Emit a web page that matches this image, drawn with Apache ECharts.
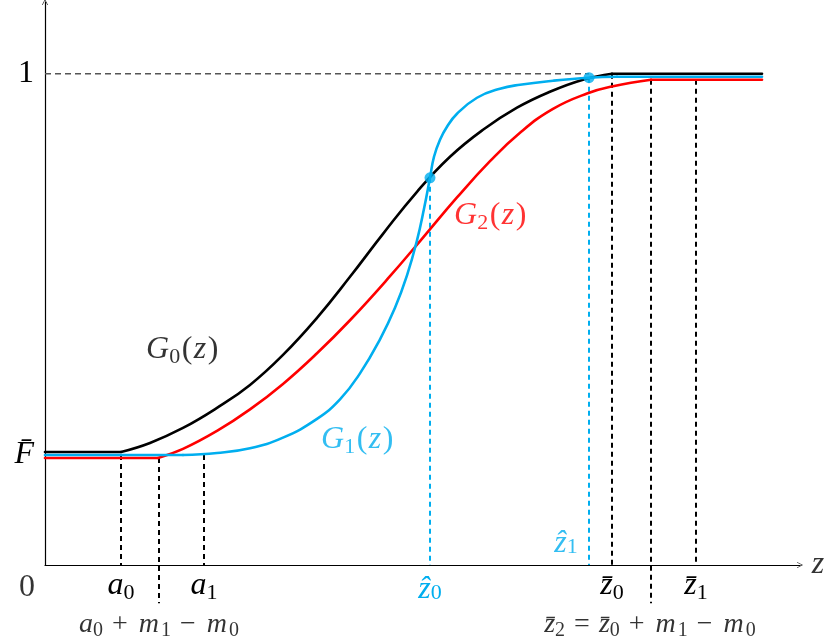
<!DOCTYPE html>
<html><head><meta charset="utf-8">
<script src="https://cdn.jsdelivr.net/npm/echarts@6.0.0/dist/echarts.min.js"></script>
<style>html,body{margin:0;padding:0;background:#fff}#c{width:828px;height:642px}</style>
</head><body><div id="c"></div>
<script>
// ---- data (x in axis units, y as probability) ----
const xStart = 45, xEnd = 762;
const g0 = [[121,0.2301],[150,0.2485],[183,0.2790],[217,0.3198],[250,0.3666],[283,0.4277],[317,0.5031],[350,0.5866],[383,0.6741],[417,0.7597],[450,0.8310],[483,0.8859],[517,0.9308],[550,0.9633],[583,0.9878],[612,1.0]];
const g1 = [[183,0.2240],[217,0.2281],[250,0.2377],[283,0.2593],[317,0.2974],[340,0.3371],[360,0.3900],[380,0.4593],[395,0.5234],[407,0.5896],[417,0.6609],[424,0.7251],[430,0.7882],[434,0.8310],[440,0.8656],[447,0.8921],[457,0.9185],[477,0.9511],[500,0.9695],[520,0.9776],[553,0.9857],[589,0.9919],[617,0.9939]];
const g2 = [[158,0.2179],[183,0.2363],[217,0.2729],[250,0.3167],[283,0.3686],[317,0.4310],[350,0.4982],[390,0.5878],[423,0.6664],[457,0.7481],[490,0.8220],[520,0.8800],[553,0.9285],[587,0.9597],[613,0.9745],[651,0.9878]];
const dots = [[430,0.7882],[589,0.9919]];
// dashed guides: x, top, bottom, colour key
const guideX      = [121, 159, 204, 430, 589, 612, 651, 696];
const guideTop    = [0.224, 0.2179, 0.224, 0.7882, 0.9919, 1.0, 0.9878, 0.9878];
const guideBottom = [0, -0.078, 0, 0, 0, 0, -0.078, 0];
const guideColor  = ['k','k','k','b','b','k','k','k'];
const oneLine = [[45,1],[589,1]];
// tick labels
const xTickValues = [121, 204, 430, 612, 696];
const xTickLabels = ['{i|a}{s|0}', '{i|a}{s|1}', '{bh|\u1E91}{bs|0}', '{i|z\u0304}{s|0}', '{i|z\u0304}{s|1}'];
const yTickValues = [0.224, 1];
const yTickLabels = ['{i|F\u0304}', '{n|1}'];
// free annotations
const noteX = [183, 491, 358, 566, 159, 650, 27, 818];
const noteY = [0.4379, 0.7108, 0.2546, 0.0509, -0.1222, -0.1222, -0.0468, 0];
const noteText = [
  '{i|G}{s|0}{p|(}{i|z}{p|)}',
  '{ri|G}{rs|2}{rp|(}{ri|z}{rp|)}',
  '{bi|G}{bs|1}{bp|(}{bi|z}{bp|)}',
  '{bh|\u1E91}{bs|1}',
  '{i2|a}{s2|0}{o2|+}{m2|m}{s2|1}{o2|\u2212}{m2|m}{s2|0}',
  '{i2|z\u0304}{s2|2}{o2|=}{i2|z\u0304}{s2|0}{o2|+}{m2|m}{s2|1}{o2|\u2212}{m2|m}{s2|0}',
  '{n|0}',
  '{i|z}'
];

const BLACK = '#000', RED = '#ff0000', BLUE = '#00aeef';
const FF = '"Liberation Serif", "DejaVu Serif", serif';
const FS = 32, SS = 22, FS2 = 28, SS2 = 20;
function st(color, italic, size, sub, pad) {
  const o = {fontFamily: FF, fontSize: size, color: color, fontStyle: italic ? 'italic' : 'normal', lineHeight: sub ? Math.round(size*0.8) : size + 4};
  if (sub) o.verticalAlign = 'bottom';
  if (pad) o.padding = [0, pad, 0, pad];
  return o;
}
const rich = {
  i: st(BLACK, true, FS), s: st(BLACK, false, SS, true), n: st(BLACK, false, FS), p: st(BLACK, false, FS, false, 1.5),
  ri: st(RED, true, FS), rs: st(RED, false, SS, true), rp: st(RED, false, FS, false, 1.5),
  bi: st(BLUE, true, FS), bs: st(BLUE, false, SS, true), bp: st(BLUE, false, FS, false, 1.5), bh: st(BLUE, true, FS),
  i2: st(BLACK, true, FS2), s2: st(BLACK, false, SS2, true), o2: st(BLACK, false, FS2, false, 9), m2: st(BLACK, true, FS2, false, 2)
};
rich.bh.padding = [8, 0, 0, 0];

const chevron = 'path://M0,10 L5,0 L10,10 L9,10 L5,2 L1,10 Z';
const axisLineStyle = {color: BLACK, width: 1.2};

const series = [];
series.push({type: 'line', data: oneLine, symbol: 'none', silent: true,
  lineStyle: {color: '#555', width: 1.3, type: [6, 4]}, z: 1});
guideX.forEach((x, k) => {
  series.push({type: 'line', data: [[x, guideTop[k]], [x, guideBottom[k]]], symbol: 'none', clip: false, silent: true,
    lineStyle: {color: guideColor[k] === 'b' ? BLUE : BLACK, width: 2, type: [5, 4]}, z: 2});
});
[[g0, BLACK], [g2, RED], [g1, BLUE]].forEach(([d, c], k) => {
  const first = d[0], last = d[d.length - 1];
  const ls = {color: c, width: 2.6, cap: 'round'};
  series.push({type: 'line', data: [[xStart, first[1]], first], symbol: 'none', silent: true, lineStyle: ls, z: 5 + k});
  series.push({type: 'line', data: d, symbol: 'none', smooth: 0.45, silent: true, lineStyle: ls, z: 5 + k});
  series.push({type: 'line', data: [last, [xEnd, last[1]]], symbol: 'none', silent: true, lineStyle: ls, z: 5 + k});
});
series.push({type: 'scatter', data: dots, symbolSize: 11, itemStyle: {color: BLUE}, z: 10, silent: true});
series.push({type: 'scatter', data: noteX.map((x, k) => [x, noteY[k]]), symbolSize: 1, clip: false, silent: true,
  itemStyle: {color: 'rgba(0,0,0,0)'},
  label: {show: true, position: 'inside', formatter: p => noteText[p.dataIndex], rich: rich}, z: 11});

const chart = echarts.init(document.getElementById('c'), null, {renderer: 'canvas'});
chart.setOption({
  animation: false,
  backgroundColor: '#fff',
  grid: {left: 45, right: 28, top: 2, bottom: 77},
  xAxis: {type: 'value', min: 45, max: 800,
    axisLine: {show: true, onZero: false, symbol: ['none', chevron], symbolSize: [9, 6], lineStyle: axisLineStyle},
    axisTick: {show: false}, splitLine: {show: false},
    axisLabel: {show: true, customValues: xTickValues, margin: 3,
      formatter: v => xTickLabels[xTickValues.indexOf(v)], rich: rich}},
  yAxis: {type: 'value', min: 0, max: 1.146,
    axisLine: {show: true, onZero: false, symbol: ['none', chevron], symbolSize: [9, 6], lineStyle: axisLineStyle},
    axisTick: {show: false}, splitLine: {show: false},
    axisLabel: {show: true, customValues: yTickValues, margin: 11,
      formatter: v => yTickLabels[yTickValues.indexOf(v)], rich: rich}},
  series: series
});
</script>
</body></html>
